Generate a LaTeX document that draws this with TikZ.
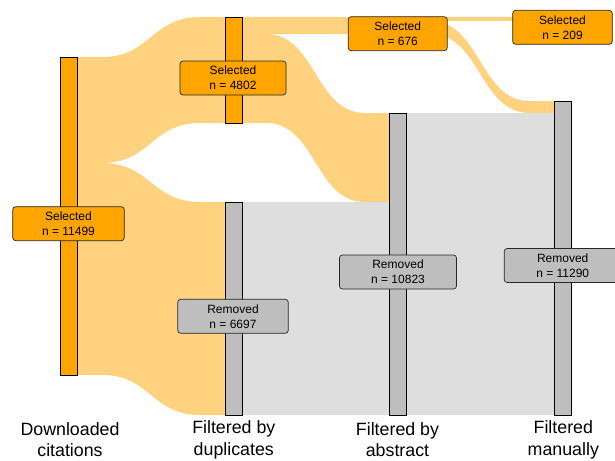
\documentclass[tikz,border=0pt]{standalone}
\usepackage{fontspec}
\setmainfont{Liberation Sans}
\definecolor{selbar}{HTML}{FFA500}
\definecolor{selflow}{HTML}{FFD280}
\definecolor{rembar}{HTML}{BEBEBE}
\definecolor{remflow}{HTML}{DEDEDE}
\newcommand\ribbon[7]{%
  \pgfmathsetmacro\rxa{#1+(#4-#1)/6}%
  \pgfmathsetmacro\rxb{#4-(#4-#1)/6}%
  \pgfmathsetmacro\rxm{(#1+#4)/2}%
  \fill[#7] (#1,#2) -- (\rxa,#2) .. controls (\rxm,#2) and (\rxm,#5) .. (\rxb,#5) -- (#4,#5)
    -- (#4,#6) -- (\rxb,#6) .. controls (\rxm,#6) and (\rxm,#3) .. (\rxa,#3) -- (#1,#3) -- cycle;}
\begin{document}
\begin{tikzpicture}[x=1pt,y=-1pt,
  barst/.style={draw=black,line width=0.9pt,minimum width=17pt,inner sep=0pt},
  selbarst/.style={barst,fill=selbar},
  rembarst/.style={barst,fill=rembar},
  lab/.style={draw=black!85,line width=0.7pt,rounded corners=3pt,inner sep=0pt,
    align=center,minimum height=34pt,font=\fontsize{12}{15}\selectfont},
  sellab/.style={lab,fill=selbar},
  remlab/.style={lab,fill=rembar},
  axtitle/.style={anchor=base,inner sep=0pt,font=\fontsize{17.8}{21.6}\selectfont}]
\useasboundingbox (0,0) rectangle (615,460);
\clip (0,0) rectangle (615,460);
% flows
\ribbon{77}{57}{163}{225}{17}{123}{selflow}
\ribbon{77}{163}{375}{225}{202}{415}{selflow}
\ribbon{242}{17}{34}{389}{17}{34}{selflow}
\ribbon{242}{34}{123}{389}{113}{202}{selflow}
\ribbon{242}{202}{415}{389}{202}{415}{remflow}
\ribbon{406}{17}{21}{554}{17}{21}{selflow}
\ribbon{406}{21}{34}{554}{101}{113}{selflow}
\ribbon{406}{113}{415}{554}{113}{415}{remflow}
% bars
\node[selbarst,minimum height=318pt] (b1s) at (68.5,216) {};
\node[selbarst,minimum height=106pt] (b2s) at (233.5,70) {};
\node[rembarst,minimum height=213pt] (b2r) at (233.5,308.5) {};
\node[selbarst,minimum height=17pt] (b3s) at (397.5,25.5) {};
\node[rembarst,minimum height=302pt] (b3r) at (397.5,264) {};
\node[selbarst,minimum height=4pt] (b4s) at (562.5,19) {};
\node[rembarst,minimum height=314pt] (b4r) at (562.5,258) {};
% labels
\node[sellab,minimum width=111.6pt] (l1) at (68.5,223.7) {Selected\\n = 11499};
\node[sellab,minimum width=106pt] (l2) at (233,78) {Selected\\n = 4802};
\node[remlab,minimum width=110.6pt] (l3) at (233,316.3) {Removed\\n = 6697};
\node[sellab,minimum width=99pt] (l4) at (397.7,33.7) {Selected\\n = 676};
\node[remlab,minimum width=117pt] (l5) at (398,272) {Removed\\n = 10823};
\node[sellab,minimum width=99.6pt] (l6) at (562.5,27.3) {Selected\\n = 209};
\node[remlab,minimum width=117pt] (l7) at (562.7,265.5) {Removed\\n = 11290};
% axis titles
\node[axtitle] (t1a) at (70,435.7) {Downloaded};
\node[axtitle] (t1b) at (70,456.8) {citations};
\node[axtitle] (t2a) at (233.8,433.5) {Filtered by};
\node[axtitle] (t2b) at (233.8,455.3) {duplicates};
\node[axtitle] (t3a) at (397.5,435.7) {Filtered by};
\node[axtitle] (t3b) at (397.5,456.8) {abstract};
\node[axtitle] (t4a) at (563.3,433.5) {Filtered};
\node[axtitle] (t4b) at (563.3,455.3) {manually};
\end{tikzpicture}
\end{document}
